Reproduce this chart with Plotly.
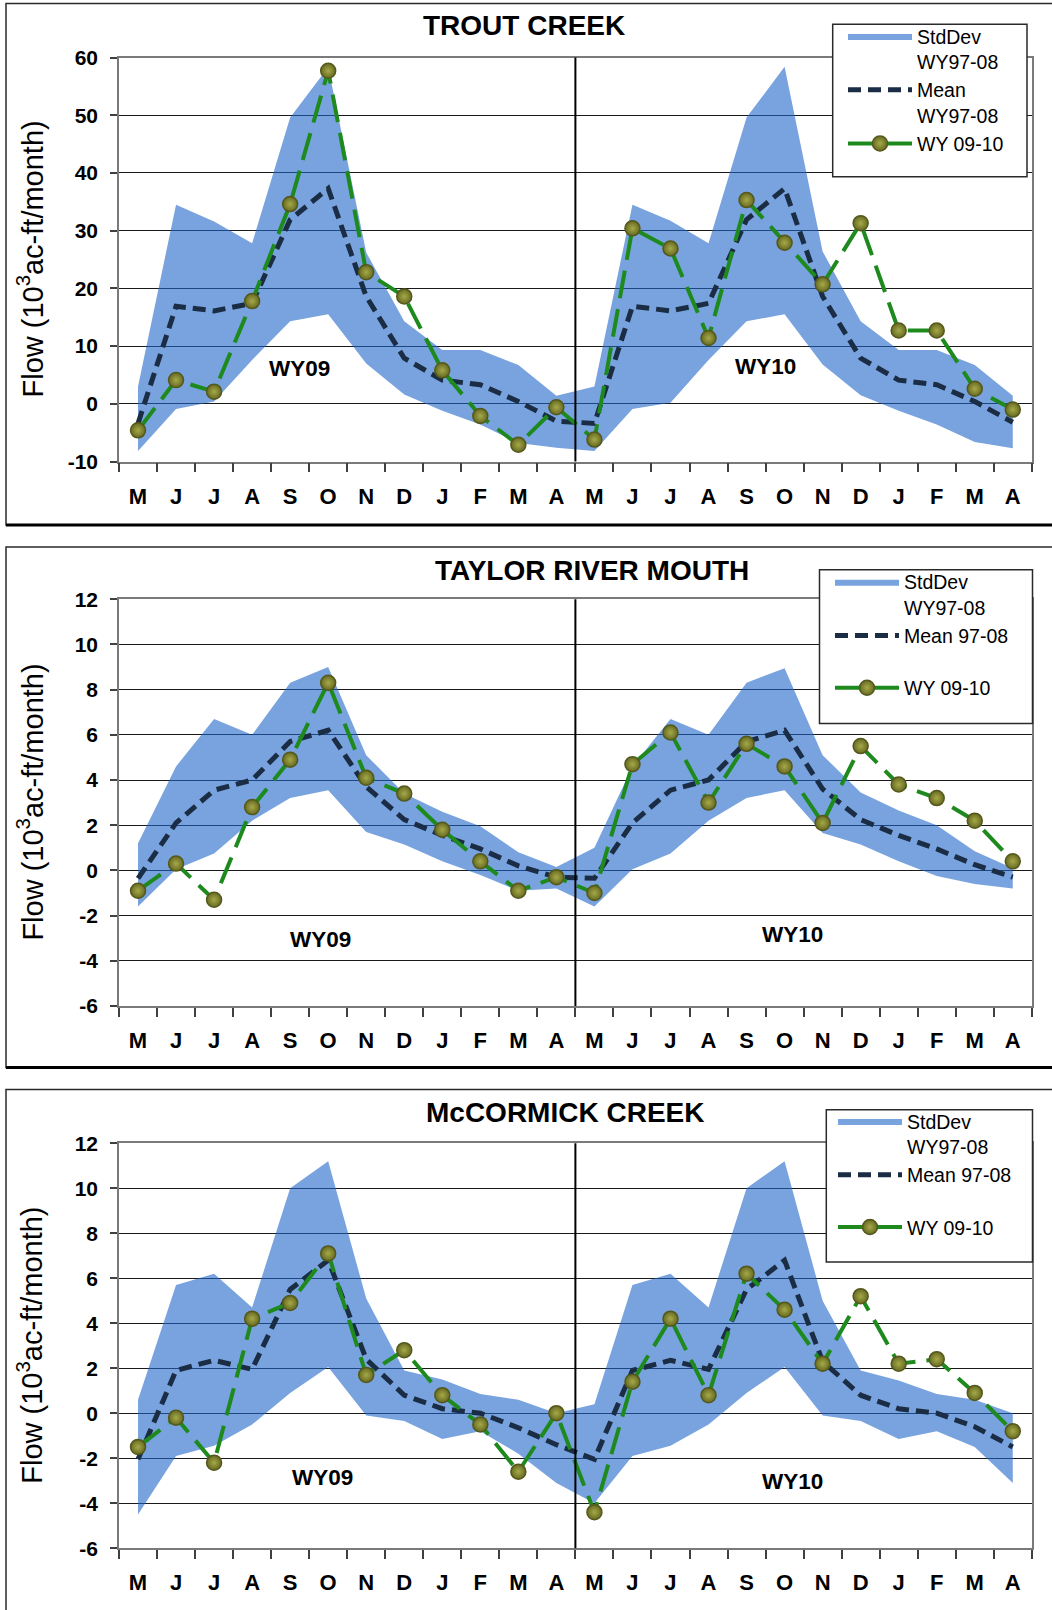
import plotly.graph_objects as go

W, H = 1052, 1610
FONT = "Liberation Sans, Arial, sans-serif"

# Month letters for water years WY09 and WY10 (May to April)
MONTHS = ["M", "J", "J", "A", "S", "O", "N", "D", "J", "F", "M", "A",
          "M", "J", "J", "A", "S", "O", "N", "D", "J", "F", "M", "A"]

# y-axis tick values
trout_yticks = [-10, 0, 10, 20, 30, 40, 50, 60]
small_yticks = [-6, -4, -2, 0, 2, 4, 6, 8, 10, 12]

# ---- Trout Creek (10^3 ac-ft/month) ----
trout_obs = [-4.6, 4.1, 2.1, 17.8, 34.6, 57.7, 22.8, 18.6, 5.8, -2.1, -7.1, -0.6,
             -6.2, 30.4, 26.9, 11.4, 35.3, 27.9, 20.7, 31.3, 12.7, 12.7, 2.6, -1.0]
trout_mean = [-3.4, 16.9, 16.1, 17.4, 31.9, 37.3, 18.6, 7.9, 4.1, 3.3, 0.4, -3.0,
              -3.4, 16.9, 16.1, 17.4, 31.9, 37.3, 18.6, 7.9, 4.1, 3.3, 0.4, -3.2]
trout_sd_hi = [3.0, 34.5, 31.6, 27.8, 49.6, 58.3, 26.2, 14.3, 9.3, 9.3, 6.7, 1.4,
               3.0, 34.5, 31.7, 27.8, 49.6, 58.4, 26.4, 14.3, 9.3, 9.3, 6.7, 1.4]
trout_sd_lo = [-8.2, -0.9, 0.4, 7.6, 14.3, 15.5, 7.0, 1.6, -1.2, -3.6, -6.8, -7.6,
               -8.2, -0.9, 0.2, 7.6, 14.3, 15.5, 6.8, 1.5, -1.2, -3.6, -6.6, -7.7]

# ---- Taylor River Mouth ----
taylor_obs = [-0.9, 0.3, -1.3, 2.8, 4.9, 8.3, 4.1, 3.4, 1.8, 0.4, -0.9, -0.3,
              -1.0, 4.7, 6.1, 3.0, 5.6, 4.6, 2.1, 5.5, 3.8, 3.2, 2.2, 0.4]
taylor_mean = [-0.35, 2.1, 3.55, 4.0, 5.7, 6.2, 3.7, 2.25, 1.55, 0.95, 0.2, -0.3,
               -0.35, 2.1, 3.55, 4.0, 5.7, 6.2, 3.6, 2.25, 1.55, 0.95, 0.25, -0.3]
taylor_sd_hi = [1.2, 4.6, 6.7, 6.0, 8.3, 9.0, 5.1, 3.4, 2.6, 1.95, 0.8, 0.15,
                1.0, 4.6, 6.7, 6.0, 8.3, 8.95, 5.1, 3.45, 2.65, 2.0, 0.85, 0.1]
taylor_sd_lo = [-1.6, 0.05, 0.75, 2.2, 3.2, 3.55, 1.7, 1.15, 0.4, -0.2, -0.9, -0.8,
                -1.6, 0.05, 0.75, 2.2, 3.2, 3.55, 1.65, 1.15, 0.4, -0.25, -0.6, -0.8]

# ---- McCormick Creek ----
mccormick_obs = [-1.5, -0.2, -2.2, 4.2, 4.9, 7.1, 1.7, 2.8, 0.8, -0.5, -2.6, 0.0,
                 -4.4, 1.4, 4.2, 0.8, 6.2, 4.6, 2.2, 5.2, 2.2, 2.4, 0.9, -0.8]
mccormick_mean = [-2.05, 1.9, 2.35, 1.95, 5.5, 6.8, 2.4, 0.8, 0.2, 0.0, -0.65, -1.4,
                  -2.05, 1.9, 2.35, 1.95, 5.5, 6.8, 2.3, 0.8, 0.2, 0.0, -0.6, -1.5]
mccormick_sd_hi = [0.6, 5.7, 6.2, 4.7, 10.0, 11.2, 5.1, 1.9, 1.5, 0.85, 0.6, 0.0,
                   0.4, 5.7, 6.2, 4.7, 10.0, 11.2, 5.0, 1.9, 1.45, 0.85, 0.6, 0.0]
mccormick_sd_lo = [-4.5, -1.9, -1.45, -0.5, 0.9, 2.05, -0.1, -0.35, -1.15, -0.8, -1.8, -3.1,
                   -4.0, -1.9, -1.45, -0.5, 0.9, 2.05, -0.1, -0.35, -1.15, -0.8, -1.5, -3.1]

BAND_C = "rgba(30,102,200,0.6)"
MEAN_C = "#1b2d45"
OBS_C = "#1e8a1e"
LEG_SIZE = 19.5

panels = [
    dict(title="TROUT CREEK", obs=trout_obs, mean=trout_mean, hi=trout_sd_hi, lo=trout_sd_lo,
         yr=[-10, 60], yticks=trout_yticks, top=57.5, bot=461.5, frame=(3.4, 525.0),
         title_xy=(524, 26), legend_box=(832.7, 24.3, 1027.0, 176.7), legend_xy=(843.0, 16.8),
         names=["StdDev<br>WY97-08", "Mean<br>WY97-08", "WY 09-10"], group_gap=0,
         wy09=(4.25, 6.1), wy10=(16.5, 6.4)),
    dict(title="TAYLOR RIVER MOUTH", obs=taylor_obs, mean=taylor_mean, hi=taylor_sd_hi, lo=taylor_sd_lo,
         yr=[-6, 12], yticks=small_yticks, top=599.2, bot=1006.0, frame=(547.0, 1067.5),
         title_xy=(592, 570), legend_box=(819.5, 569.8, 1032.5, 723.6), legend_xy=(830.0, 562.5),
         names=["StdDev<br>WY97-08", "Mean 97-08", "WY 09-10"], group_gap=24,
         wy09=(4.8, -3.05), wy10=(17.2, -2.85)),
    dict(title="McCORMICK CREEK", obs=mccormick_obs, mean=mccormick_mean, hi=mccormick_sd_hi, lo=mccormick_sd_lo,
         yr=[-6, 12], yticks=small_yticks, top=1143.2, bot=1548.2, frame=(1089.5, 1640.0),
         title_xy=(565, 1112), legend_box=(826.3, 1109.8, 1032.5, 1261.9), legend_xy=(833.0, 1101.8),
         names=["StdDev<br>WY97-08", "Mean 97-08", "WY 09-10"], group_gap=24,
         wy09=(4.85, -2.85), wy10=(17.2, -3.05)),
]

X_LEFT, X_RIGHT = 119.0, 1031.8


def py(p):
    return 1 - p / H


def pxx(p):
    return p / W


xs = list(range(len(MONTHS)))
fig = go.Figure()
annotations = []
shapes = []
layout = {}

for k, p in enumerate(panels):
    n = "" if k == 0 else str(k + 1)
    xa, ya = "x" + n, "y" + n
    leg = "legend" + n

    # standard-deviation envelope as a closed polygon
    fig.add_trace(go.Scatter(
        x=xs + xs[::-1], y=p["hi"] + p["lo"][::-1],
        fill="toself", fillcolor=BAND_C, mode="lines", line=dict(width=0, color=BAND_C),
        name=p["names"][0], xaxis=xa, yaxis=ya, legend=leg, legendgroup="clim" + n,
        hoverinfo="skip"))
    # long-term mean
    fig.add_trace(go.Scatter(
        x=xs, y=p["mean"], mode="lines",
        line=dict(color=MEAN_C, width=5, dash="13px,7px"),
        name=p["names"][1], xaxis=xa, yaxis=ya, legend=leg, legendgroup="clim" + n))
    # water years 2009-2010
    fig.add_trace(go.Scatter(
        x=xs, y=p["obs"], mode="lines+markers",
        line=dict(color=OBS_C, width=4, dash="28px,11px"),
        marker=dict(size=15, color="#666a22",
                    gradient=dict(type="radial", color="#a6a947"),
                    line=dict(color="#55581c", width=1.5)),
        name=p["names"][2], xaxis=xa, yaxis=ya, legend=leg, legendgroup="obs" + n))

    layout["xaxis" + n] = dict(
        domain=[pxx(X_LEFT), pxx(X_RIGHT)], range=[-0.5, 23.5], anchor=ya, automargin=False,
        tickmode="array", tickvals=xs, ticktext=MONTHS,
        ticks="outside", ticklen=9, tickcolor="rgba(0,0,0,0)", ticklabelstandoff=5,
        minor=dict(tick0=-0.5, dtick=1, ticks="outside", ticklen=9,
                   tickcolor="#404040", tickwidth=1.5),
        showgrid=False, zeroline=False, showline=True, linecolor="#7a7a7a",
        linewidth=1.5, mirror=True, fixedrange=True,
        tickfont=dict(family=FONT, size=22, color="black", weight="bold"))
    layout["yaxis" + n] = dict(
        domain=[py(p["bot"]), py(p["top"])], range=p["yr"], anchor=xa, automargin=False,
        tickmode="array", tickvals=p["yticks"], ticktext=[str(v) for v in p["yticks"]],
        ticks="outside", ticklen=7, tickcolor="#404040",
        tickwidth=1.5, ticklabelstandoff=8,
        showgrid=True, gridcolor="#1a1a1a", gridwidth=1, zeroline=False,
        showline=True, linecolor="#7a7a7a", linewidth=1.5, mirror=True, fixedrange=True,
        tickfont=dict(family=FONT, size=21, color="black", weight="bold"))
    layout[leg] = dict(
        x=pxx(p["legend_xy"][0]), y=py(p["legend_xy"][1]), xanchor="left", yanchor="top",
        bgcolor="rgba(0,0,0,0)", borderwidth=0,
        font=dict(family=FONT, size=LEG_SIZE, color="black"),
        itemwidth=64, valign="top", traceorder="grouped", tracegroupgap=p["group_gap"])

    # legend frame
    bx0, by0, bx1, by1 = p["legend_box"]
    shapes.append(dict(type="rect", xref="paper", yref="paper",
                       x0=pxx(bx0), x1=pxx(bx1), y0=py(by1), y1=py(by0),
                       fillcolor="white", line=dict(color="#2a2a2a", width=1.5), layer="above"))

    # panel title
    annotations.append(dict(
        text=p["title"], xref="paper", yref="paper",
        x=pxx(p["title_xy"][0]), y=py(p["title_xy"][1]), xanchor="center", yanchor="middle",
        showarrow=False, font=dict(family=FONT, size=28, color="black", weight="bold")))
    # y-axis title
    annotations.append(dict(
        text="Flow (10<sup>3</sup>ac-ft/month)", xref="paper", yref="paper",
        x=pxx(30), y=py((p["top"] + p["bot"]) / 2), xanchor="center", yanchor="middle",
        textangle=-90, showarrow=False, font=dict(family=FONT, size=29, color="black")))
    # water-year labels
    for txt, (lx, ly) in (("WY09", p["wy09"]), ("WY10", p["wy10"])):
        annotations.append(dict(
            text=txt, xref=xa, yref=ya, x=lx, y=ly, showarrow=False,
            xanchor="center", yanchor="middle",
            font=dict(family=FONT, size=22.5, color="black", weight="bold")))

    # boundary between water years
    shapes.append(dict(type="line", xref=xa, yref=ya + " domain", x0=11.5, x1=11.5, y0=0, y1=1,
                       line=dict(color="black", width=2)))
    # panel frame
    f_top, f_bot = p["frame"]
    shapes.append(dict(type="rect", xref="paper", yref="paper",
                       x0=pxx(6), x1=1.05, y0=py(f_bot), y1=py(f_top),
                       line=dict(color="#2a2a2a", width=1.5), layer="below"))
    shapes.append(dict(type="line", xref="paper", yref="paper",
                       x0=pxx(6), x1=1.05, y0=py(f_bot), y1=py(f_bot),
                       line=dict(color="black", width=3)))

fig.update_layout(
    width=W, height=H, margin=dict(l=0, r=0, t=0, b=0, autoexpand=False),
    paper_bgcolor="white", plot_bgcolor="white",
    annotations=annotations, shapes=shapes, **layout)

fig.write_html("out.html", include_plotlyjs=True, full_html=True,
               config={"displayModeBar": False})
